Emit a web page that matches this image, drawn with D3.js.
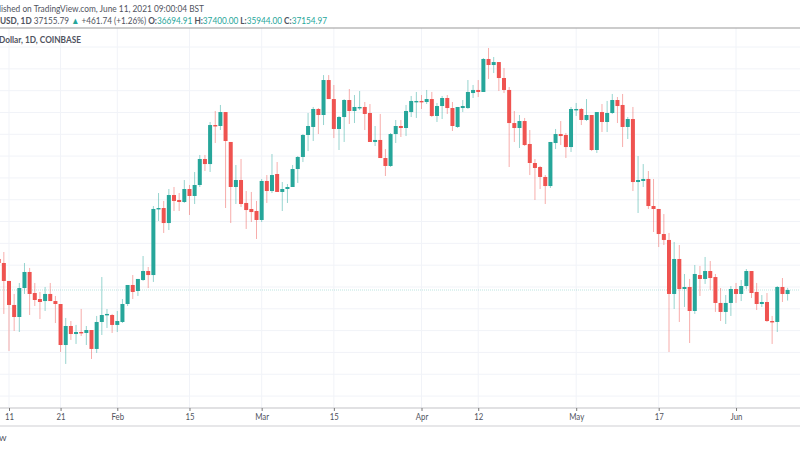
<!DOCTYPE html>
<html><head><meta charset="utf-8">
<script src="https://cdn.jsdelivr.net/npm/d3@7"></script>
<style>
html,body{margin:0;padding:0;background:#fff;overflow:hidden}
svg{display:block;font-family:Lato,"Liberation Sans",sans-serif}
</style></head><body>
<svg id="c" width="800" height="450"></svg>
<script>
const firstDay = "2021-01-09";
const opens = [40710,40250,38190,35440,34060,37380,39220,36810,36120,35890,36700,35890,35550,30850,33030,32110,32340,32230,32570,30400,33490,34290,34290,33150,33490,35550,37730,37040,38300,39330,38870,46440,46550,44830,48040,47470,47240,48730,47930,49190,52170,51590,56060,55950,57550,54120,48960,49760,47130,46440,46210,45180,49650,48500,50450,48390,48730,48960,51020,52400,54920,55840,57900,57210,61220,59040,55610,56980,58930,57670,58010,58130,57440,54120,54350,52280,51370,55030,55950,55720,57550,58700,58820,58700,59040,57100,58240,59160,58010,55840,58010,58010,59730,60080,59850,63630,62940,63280,61450,60080,56290,55720,56520,53890,51710,51250,50110,49070,54000,55030,54920,53540,57780,57900,56640,57210,53200,57550,56410,57440,58930,58360,55840,56750,49530,49650,49880,46780,46440,43570,42890,36700,40710,37270,37500,34750,38870,38420,39330,38640,35670,34640,35670,37270,36700,37610,39330,36930,35550,35780,33600,33490,37500,36695];
const highs = [40940,41510,38190,36700,37960,40250,39680,37960,36930,37500,37960,36470,35550,33950,33600,33150,34980,33030,32570,34180,38640,34980,34410,34750,36120,37730,38870,38420,41050,39790,46780,48270,47360,48730,48960,48270,49760,49190,50680,52630,52630,56410,57670,58360,57550,54120,51480,52170,48500,48390,47360,49880,50330,52740,51820,49530,49300,51480,52510,55030,57440,58130,58010,61790,61790,60650,57100,59040,60190,59500,59960,58700,58470,55950,57330,53310,55150,56640,56640,58360,59390,59850,59500,60080,59850,58590,59390,59500,58700,58130,58930,61220,60650,61220,63740,64890,63860,63280,62600,60420,57670,57210,56870,55490,52170,51370,50330,54120,55610,56520,55150,58130,58590,58010,59040,57210,57550,58470,58820,59620,59270,59620,56980,58130,52510,51590,50790,49880,46440,45860,43690,42660,42310,38990,38420,40020,39910,40940,40480,38990,37380,36580,37610,37960,38300,39560,39330,37960,36580,36810,34180,37610,38530,37400];
const lows = [40250,34410,30170,32460,32340,36700,34290,35320,33830,34750,35890,33370,30050,28680,31430,30970,31880,30850,29250,29940,32000,32800,32230,32340,33370,35320,36120,36470,38190,37380,38080,45060,43690,44030,46210,46210,47130,45750,47010,48960,50790,50680,54000,55490,46550,44830,47010,46670,44150,44950,43000,44950,47130,48270,48390,46210,47130,48960,49420,51820,53080,54230,55030,56060,59040,54570,53200,54120,56180,56290,57780,55490,54120,53660,52280,50220,51250,54000,54690,54800,56980,56870,57900,58470,56980,56410,56750,57330,55380,55720,57550,57900,59160,59270,59850,61340,62020,59960,59730,51250,54120,53430,53660,50330,47470,48730,47010,48850,53310,53770,52280,52970,57100,56060,56520,53080,52860,55260,55260,57330,56290,53540,54460,48500,45980,48960,46440,43800,42080,42310,30050,34980,33490,35210,31080,34410,36470,37850,37160,34640,33600,33260,34180,35670,35890,37270,36240,34860,35210,33490,30970,32340,35780,35944];
const closes = [40250,38190,35440,34060,37380,39220,36700,36010,35780,36700,35890,35550,30850,33030,32110,32340,32230,32570,30400,33490,34290,34410,33150,33600,35550,37730,36930,38420,39330,38870,46440,46550,44830,48040,47360,47240,48730,47930,49190,52170,51590,56060,55950,57550,54230,48960,49760,47010,46320,46090,45180,49650,48500,50330,48390,48730,48960,51020,52400,54920,55950,57900,57210,61220,59040,55610,56980,58930,57670,58130,58130,57330,54120,54350,52280,51370,55030,55950,55720,57670,58820,58820,58700,59040,57100,58240,59160,58010,55950,58130,58240,59850,60080,59850,63630,62940,63280,61450,60080,56290,55720,56520,53770,51710,51140,50110,49070,54120,55030,54800,53540,57900,57900,56640,57210,53200,57550,56410,57440,58930,58240,55840,56750,49530,49760,49880,46780,46440,43570,42890,36700,40710,37270,37500,34750,38990,38420,39330,38530,35670,34640,35670,37270,36700,37610,39330,36810,35550,35780,33600,33490,37500,36700,37155];
const gridPrices = [65000,62500,60000,57500,55000,52500,50000,47500,45000,42500,40000,37500,35000,32500,30000,27500,25000];
const tickDates = ["2021-01-11","2021-01-21","2021-02-01","2021-02-15","2021-03-01","2021-03-15","2021-04-01","2021-04-12","2021-05-01","2021-05-17","2021-06-01"];
const tickLabels = ["11","21","Feb","15","Mar","15","Apr","12","May","17","Jun"];
const lastPrice = 37155;

const UP = "#26a69a", DOWN = "#ef5350", GRID = "#f1f3f8", TXT = "#50535e";
const svg = d3.select("#c");
const start = new Date(firstDay + "T00:00:00Z");
const rows = opens.map((o, i) => ({date: d3.utcDay.offset(start, i), o, h: highs[i], l: lows[i], c: closes[i]}));

const x = d3.scaleUtc().domain([new Date("2021-01-11T00:00:00Z"), new Date("2021-06-11T00:00:00Z")]).range([9, 787.6]);
const y = d3.scaleLinear().domain([37155, 64890]).range([290, 48]);
const tdates = tickDates.map(d => new Date(d + "T00:00:00Z"));

// grids
svg.append("g").selectAll("line").data(gridPrices).join("line")
  .attr("x1", 0).attr("x2", 800).attr("y1", d => y(d)).attr("y2", d => y(d))
  .attr("stroke", GRID).attr("stroke-width", 1);
svg.append("g").selectAll("line").data(tdates).join("line")
  .attr("x1", d => x(d)).attr("x2", d => x(d)).attr("y1", 28).attr("y2", 408)
  .attr("stroke", GRID).attr("stroke-width", 1);

// last price line
svg.append("line").attr("x1", 0).attr("x2", 800).attr("y1", y(lastPrice)).attr("y2", y(lastPrice))
  .attr("stroke", UP).attr("stroke-opacity", .3).attr("stroke-dasharray", "1 1");

// candles
const col = d => d.c >= d.o ? UP : DOWN;
const g = svg.append("g").style("filter", "blur(.3px)");
g.selectAll("line.w").data(rows).join("line").attr("class", "w")
  .attr("x1", d => x(d.date)).attr("x2", d => x(d.date))
  .attr("y1", d => y(d.h)).attr("y2", d => y(d.l))
  .attr("stroke", col).attr("stroke-width", 1).attr("stroke-opacity", .48);
const bw = 4;
g.selectAll("rect").data(rows).join("rect")
  .attr("x", d => x(d.date) - bw / 2).attr("width", bw)
  .attr("y", d => y(Math.max(d.o, d.c)))
  .attr("height", d => Math.max(1.4, Math.abs(y(d.o) - y(d.c))))
  .attr("fill", col);

// frame lines
[[28, "#9a9a9a"], [408, "#c4c4c8"], [426, "#d0d0d4"]].forEach(([py, c]) =>
  svg.append("line").attr("x1", 0).attr("x2", 800).attr("y1", py).attr("y2", py)
     .attr("stroke", c).attr("stroke-width", 1.2));

// time axis
const ax = svg.append("g").attr("transform", "translate(0,408)")
  .call(d3.axisBottom(x).tickValues(tdates).tickSize(3).tickPadding(2)
    .tickFormat((d, i) => tickLabels[i]));
ax.select(".domain").remove();
ax.selectAll(".tick line").attr("stroke", "#777");
ax.selectAll("text").attr("fill", TXT).style("font", '9.5px Lato,"Liberation Sans",sans-serif')
  .each(function () {
    d3.select(this).attr("textLength", this.getComputedTextLength() * .82).attr("lengthAdjust", "spacingAndGlyphs");
  });

// header text
const head = svg.append("g").attr("fill", TXT).style("font-size", "9.6px");
const fit = (sel, w) => sel.attr("textLength", w).attr("lengthAdjust", "spacingAndGlyphs");
fit(head.append("text").attr("x", -1).attr("y", 11.5).text("lished on TradingView.com, June 11, 2021 09:00:04 BST"), 205);
const parts = [["USD, 1D", 1, TXT], [" 37155.79 ", 0, TXT], ["▲", 0, UP], [" +461.74 (+1.26%) ", 0, TXT],
  ["O:", 1, TXT], ["36694.91 ", 0, UP], ["H:", 1, TXT], ["37400.00 ", 0, UP],
  ["L:", 1, TXT], ["35944.00 ", 0, UP], ["C:", 1, TXT], ["37154.97", 0, UP]];
const line2 = head.append("text").attr("x", 0).attr("y", 23.5).attr("xml:space", "preserve").style("white-space", "pre");
parts.forEach(([t, b, c]) => line2.append("tspan").attr("fill", c).attr("font-weight", b ? 700 : 400).text(t));
fit(line2, 327);
fit(head.append("text").attr("x", -1).attr("y", 42.5).attr("font-weight", 700).text("Dollar, 1D, COINBASE"), 82);
head.append("text").attr("x", -1).attr("y", 441).text("w");
</script>
</body></html>
